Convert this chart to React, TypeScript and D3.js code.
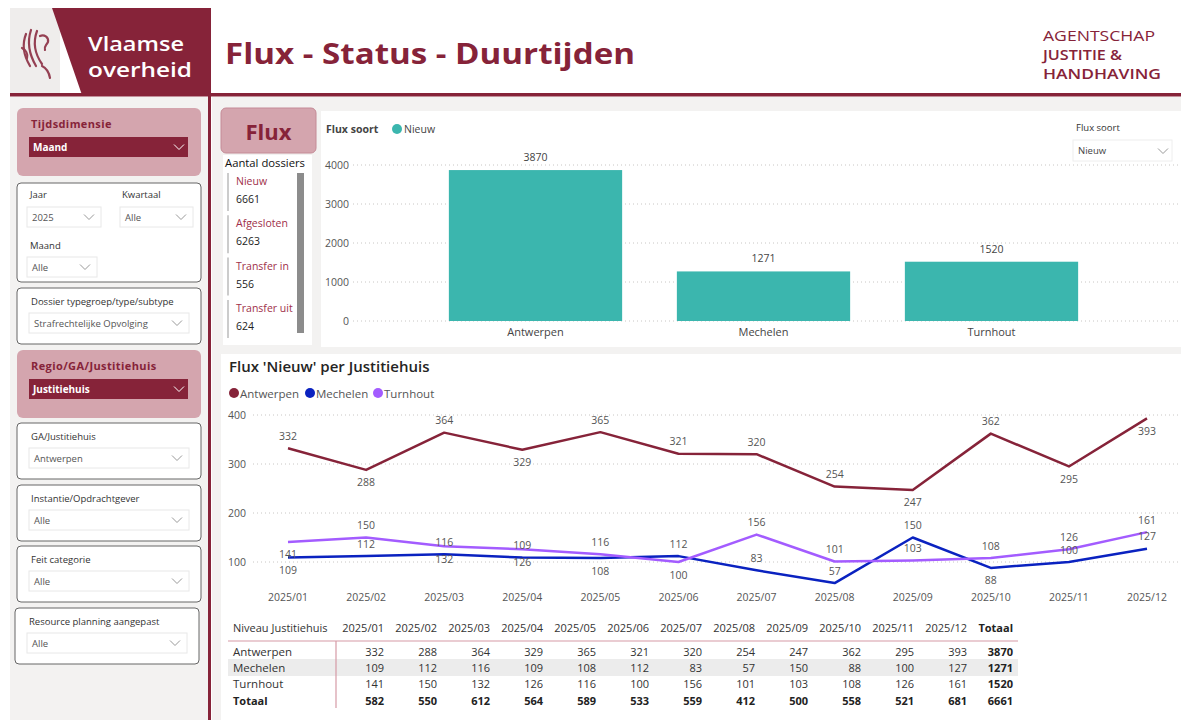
import * as d3 from 'd3';

// ---- data ----
const months = ['2025/01', '2025/02', '2025/03', '2025/04', '2025/05', '2025/06', '2025/07', '2025/08', '2025/09', '2025/10', '2025/11', '2025/12'];
const antwerpen = [332, 288, 364, 329, 365, 321, 320, 254, 247, 362, 295, 393];
const mechelen = [109, 112, 116, 109, 108, 112, 83, 57, 150, 88, 100, 127];
const turnhout = [141, 150, 132, 126, 116, 100, 156, 101, 103, 108, 126, 161];

const fluxCategories = ['Antwerpen', 'Mechelen', 'Turnhout'];
const fluxNieuw = [3870, 1271, 1520];
const barTicks = [0, 1000, 2000, 3000, 4000];
const lineTicks = [100, 200, 300, 400];

const kpiLabels = ['Nieuw', 'Afgesloten', 'Transfer in', 'Transfer uit'];
const kpiValues = [6661, 6263, 556, 624];

// where Power BI put each data label: a = above, b = below
const antwerpenSide = ['a', 'b', 'a', 'b', 'a', 'a', 'a', 'a', 'b', 'a', 'b', 'b'];
const mechelenSide = ['b', 'a', 'a', 'a', 'b', 'a', 'a', 'a', 'a', 'b', 'a', 'a'];
const turnhoutSide = ['b', 'a', 'b', 'b', 'a', 'b', 'a', 'a', 'a', 'a', 'a', 'a'];

const MAROON = '#862339';
const PINK = '#d4a5ae';
const TEAL = '#3bb6ae';
const BLUE = '#0a22c0';
const PURPLE = '#a35cff';
const BG = '#f3f2f1';
const FONT = "'Open Sans', 'Noto Sans', sans-serif";

const lineSeries = [
  { name: 'Antwerpen', values: antwerpen, color: MAROON, side: antwerpenSide },
  { name: 'Mechelen', values: mechelen, color: BLUE, side: mechelenSide },
  { name: 'Turnhout', values: turnhout, color: PURPLE, side: turnhoutSide },
];

function Chevron({ x, y, color = '#777' }: { x: number; y: number; color?: string }) {
  return <polyline points={`${x - 5},${y - 2.5} ${x},${y + 2.5} ${x + 5},${y - 2.5}`} fill="none" stroke={color} strokeWidth={1} />;
}

function Dropdown({ x, y, w, h = 20, text }: { x: number; y: number; w: number; h?: number; text: string }) {
  return (
    <g>
      <rect x={x} y={y} width={w} height={h} fill="#fff" stroke="#e8e8e8" />
      <text x={x + 5} y={y + h / 2} dominantBaseline="central" fontSize={9.5} fill="#555">{text}</text>
      <Chevron x={x + w - 12} y={y + h / 2} color="#999" />
    </g>
  );
}

function PinkSlicer({ y, title, value }: { y: number; title: string; value: string }) {
  return (
    <g>
      <rect x={17} y={y} width={184} height={68} rx={6} fill={PINK} />
      <text x={31} y={y + 15} dominantBaseline="central" fontSize={11} fontWeight={700} fill={MAROON} letterSpacing={0.4}>{title}</text>
      <rect x={29} y={y + 29} width={159} height={20} fill={MAROON} />
      <text x={33} y={y + 39} dominantBaseline="central" fontSize={10} fontWeight={700} fill="#fff">{value}</text>
      <Chevron x={179} y={y + 39} color="#fff" />
    </g>
  );
}

function BoxSlicer({ x = 17, y, h = 56, label, value }: { x?: number; y: number; h?: number; label: string; value: string }) {
  return (
    <g>
      <rect x={x} y={y} width={184} height={h} rx={4} fill="#fff" stroke="#666" strokeWidth={1} />
      <text x={x + 14} y={y + 13} dominantBaseline="central" fontSize={9.5} fill="#333">{label}</text>
      <Dropdown x={x + 12} y={y + 25} w={160} text={value} />
    </g>
  );
}

export default function App() {
  // bar chart
  const by = d3.scaleLinear().domain([0, 4000]).range([321, 165]);
  const bx = d3.scaleBand().domain(fluxCategories).range([421.5, 1105.5]).paddingInner(0.24).paddingOuter(0.12);

  // line chart
  const lx = d3.scalePoint().domain(months).range([288, 1147]);
  const ly = d3.scaleLinear().domain([0, 400]).range([611, 415]);
  const line = d3.line<number>().x((_, i) => lx(months[i]) as number).y((d) => ly(d));

  // table
  const colX = d3.scalePoint().domain(months).range([384, 967]);
  const totals = months.map((_, i) => antwerpen[i] + mechelen[i] + turnhout[i]);
  const tableRows = [
    { name: 'Antwerpen', values: antwerpen },
    { name: 'Mechelen', values: mechelen },
    { name: 'Turnhout', values: turnhout },
  ];
  const rowY = d3.scalePoint().domain(['Antwerpen', 'Mechelen', 'Turnhout', 'Totaal']).range([651, 700]);

  return (
    <svg width={1181} height={720} style={{ position: 'absolute', left: 0, top: 0, fontFamily: FONT }}>
      <rect width={1181} height={720} fill="#fff" />

      {/* header */}
      <rect x={10} y={8} width={50} height={87} fill="#efedec" />
      <polygon points="52,8 210,8 210,95 82,95" fill={MAROON} />
      <g fill="none" stroke={MAROON} strokeWidth={2.2} strokeLinecap="round" opacity={0.85}>
        <path d="M26,34 C22,44 24,56 30,66" />
        <path d="M31,30 C27,42 29,54 36,66" />
        <path d="M37,31 C33,42 35,54 42,64" />
        <path d="M40,36 C44,34 49,37 48,42 C46,46 44,46 45,50" />
        <path d="M22,48 C26,50 28,54 27,58" />
        <path d="M42,66 C46,68 49,72 50,78" />
      </g>
      <text x={88} y={51} fontSize={20} fill="#fff" fontWeight={600} textLength={96} lengthAdjust="spacingAndGlyphs">Vlaamse</text>
      <text x={88} y={77} fontSize={20} fill="#fff" fontWeight={600} textLength={104} lengthAdjust="spacingAndGlyphs">overheid</text>
      <text x={225} y={64} fontSize={29} fontWeight={700} fill={MAROON} textLength={410} lengthAdjust="spacingAndGlyphs">Flux - Status - Duurtijden</text>
      <text x={1043} y={41} fontSize={15} fill={MAROON} textLength={112} lengthAdjust="spacingAndGlyphs">AGENTSCHAP</text>
      <text x={1043} y={60} fontSize={15} fontWeight={600} fill={MAROON} textLength={79} lengthAdjust="spacingAndGlyphs">JUSTITIE &amp;</text>
      <text x={1043} y={79} fontSize={15} fontWeight={600} fill={MAROON} textLength={118} lengthAdjust="spacingAndGlyphs">HANDHAVING</text>

      {/* left panel */}
      <rect x={10} y={97} width={198} height={623} fill={BG} />
      <PinkSlicer y={108} title="Tijdsdimensie" value="Maand" />
      <g>
        <rect x={17} y={183} width={184} height={99} rx={4} fill="#fff" stroke="#666" />
        <text x={30} y={194} dominantBaseline="central" fontSize={9.5} fill="#333">Jaar</text>
        <text x={122} y={194} dominantBaseline="central" fontSize={9.5} fill="#333">Kwartaal</text>
        <Dropdown x={27} y={207} w={74} text="2025" />
        <Dropdown x={120} y={207} w={73} text="Alle" />
        <text x={30} y={245} dominantBaseline="central" fontSize={9.5} fill="#333">Maand</text>
        <Dropdown x={27} y={257} w={70} text="Alle" />
      </g>
      <BoxSlicer y={288} label="Dossier typegroep/type/subtype" value="Strafrechtelijke Opvolging" />
      <PinkSlicer y={350} title="Regio/GA/Justitiehuis" value="Justitiehuis" />
      <BoxSlicer y={423} label="GA/Justitiehuis" value="Antwerpen" />
      <BoxSlicer y={485} label="Instantie/Opdrachtgever" value="Alle" />
      <BoxSlicer y={546} label="Feit categorie" value="Alle" />
      <BoxSlicer x={15} y={608} label="Resource planning aangepast" value="Alle" />

      {/* main background */}
      <rect x={212} y={97} width={969} height={623} fill={BG} />
      <rect x={10} y={93} width={1171} height={3.5} fill={MAROON} />
      <rect x={208} y={8} width={3} height={712} fill={MAROON} />

      {/* Flux KPI block */}
      <rect x={221} y={108} width={95} height={45} rx={5} fill={PINK} stroke="#c48a96" />
      <text x={268.5} y={131} textAnchor="middle" dominantBaseline="central" fontSize={22} fontWeight={700} fill={MAROON}>Flux</text>
      <rect x={223} y={155} width={89} height={190} fill="#fff" />
      <text x={225} y={162} dominantBaseline="central" fontSize={11.5} fill="#111" textLength={80} lengthAdjust="spacingAndGlyphs">Aantal dossiers</text>
      {kpiLabels.map((lab, i) => {
        const y0 = 173 + i * 42.3;
        return (
          <g key={lab}>
            <line x1={228} x2={228} y1={y0} y2={y0 + 38} stroke="#bbb" strokeWidth={1.5} />
            <text x={236} y={y0 + 8} dominantBaseline="central" fontSize={10.5} fill="#a0304a">{lab}</text>
            <text x={236} y={y0 + 26} dominantBaseline="central" fontSize={10.5} fill="#222">{kpiValues[i]}</text>
          </g>
        );
      })}
      <rect x={297} y={173} width={7} height={160} fill="#8c8c8c" />

      {/* bar chart panel */}
      <rect x={321} y={111} width={860} height={236} fill="#fff" />
      <text x={326} y={129} dominantBaseline="central" fontSize={10.5} fontWeight={700} fill="#444">Flux soort</text>
      <circle cx={397} cy={129} r={5} fill={TEAL} />
      <text x={404} y={129} dominantBaseline="central" fontSize={10.5} fill="#444">Nieuw</text>
      <text x={1076} y={127} dominantBaseline="central" fontSize={9.5} fill="#333">Flux soort</text>
      <rect x={1073} y={140} width={99} height={21} fill="#fff" stroke="#eee" />
      <text x={1078} y={150.5} dominantBaseline="central" fontSize={9.5} fill="#444">Nieuw</text>
      <Chevron x={1163} y={151} color="#999" />
      {barTicks.map((t) => (
        <g key={t}>
          <line x1={353} x2={1181} y1={by(t)} y2={by(t)} stroke="#c8c6c4" strokeDasharray="1 3" />
          <text x={349} y={by(t)} textAnchor="end" dominantBaseline="central" fontSize={10.5} fill="#555">{t}</text>
        </g>
      ))}
      {fluxCategories.map((c, i) => (
        <g key={c}>
          <rect x={bx(c)} y={by(fluxNieuw[i])} width={bx.bandwidth()} height={by(0) - by(fluxNieuw[i])} fill={TEAL} />
          <text x={(bx(c) as number) + bx.bandwidth() / 2} y={by(fluxNieuw[i]) - 13} textAnchor="middle" dominantBaseline="central" fontSize={10.5} fill="#444">{fluxNieuw[i]}</text>
          <text x={(bx(c) as number) + bx.bandwidth() / 2} y={331} textAnchor="middle" dominantBaseline="central" fontSize={11} fill="#444">{c}</text>
        </g>
      ))}

      {/* line chart panel */}
      <rect x={221} y={354} width={960} height={366} fill="#fff" />
      <text x={229} y={366} dominantBaseline="central" fontSize={15} fontWeight={600} fill="#252423">Flux 'Nieuw' per Justitiehuis</text>
      {lineSeries.map((s, i) => {
        const x0 = [234, 310, 378][i];
        return (
          <g key={s.name}>
            <circle cx={x0} cy={393} r={5} fill={s.color} />
            <text x={x0 + 6} y={393} dominantBaseline="central" fontSize={11.5} fill="#555">{s.name}</text>
          </g>
        );
      })}
      {lineTicks.map((t) => (
        <g key={t}>
          <line x1={253} x2={1181} y1={ly(t)} y2={ly(t)} stroke="#c8c6c4" strokeDasharray="1 3" />
          <text x={246} y={ly(t)} textAnchor="end" dominantBaseline="central" fontSize={10.5} fill="#555">{t}</text>
        </g>
      ))}
      {months.map((m) => (
        <text key={m} x={lx(m)} y={597} textAnchor="middle" dominantBaseline="central" fontSize={10.5} fill="#555">{m}</text>
      ))}
      {lineSeries.map((s) => (
        <path key={s.name} d={line(s.values) as string} fill="none" stroke={s.color} strokeWidth={2.5} strokeLinejoin="round" />
      ))}
      {lineSeries.map((s) =>
        s.values.map((v, i) => (
          <text key={s.name + i} x={lx(months[i])} y={ly(v) + (s.side[i] === 'a' ? -12.5 : 12.5)} textAnchor="middle" dominantBaseline="central" fontSize={10.5} fill="#555">{v}</text>
        ))
      )}

      {/* table */}
      <rect x={228} y={659} width={790} height={17} fill="#ececec" />
      <line x1={228} x2={1018} y1={641} y2={641} stroke="#d59aa6" strokeWidth={1.2} />
      <line x1={336} x2={336} y1={641} y2={708} stroke="#d59aa6" strokeWidth={1.2} />
      <text x={233} y={627} dominantBaseline="central" fontSize={11} fill="#333">Niveau Justitiehuis</text>
      {months.map((m) => (
        <text key={m} x={colX(m)} y={627} textAnchor="end" dominantBaseline="central" fontSize={11} fill="#333">{m}</text>
      ))}
      <text x={1013} y={627} textAnchor="end" dominantBaseline="central" fontSize={11} fontWeight={700} fill="#222">Totaal</text>
      {tableRows.map((r) => (
        <g key={r.name}>
          <text x={233} y={rowY(r.name)} dominantBaseline="central" fontSize={11.5} fill="#333">{r.name}</text>
          {r.values.map((v, i) => (
            <text key={i} x={colX(months[i])} y={rowY(r.name)} textAnchor="end" dominantBaseline="central" fontSize={11} fill="#333">{v}</text>
          ))}
          <text x={1013} y={rowY(r.name)} textAnchor="end" dominantBaseline="central" fontSize={11} fontWeight={700} fill="#222">{d3.sum(r.values)}</text>
        </g>
      ))}
      <text x={233} y={rowY('Totaal')} dominantBaseline="central" fontSize={11} fontWeight={700} fill="#222">Totaal</text>
      {totals.map((v, i) => (
        <text key={i} x={colX(months[i])} y={rowY('Totaal')} textAnchor="end" dominantBaseline="central" fontSize={11} fontWeight={700} fill="#222">{v}</text>
      ))}
      <text x={1013} y={rowY('Totaal')} textAnchor="end" dominantBaseline="central" fontSize={11} fontWeight={700} fill="#222">{d3.sum(totals)}</text>
    </svg>
  );
}
